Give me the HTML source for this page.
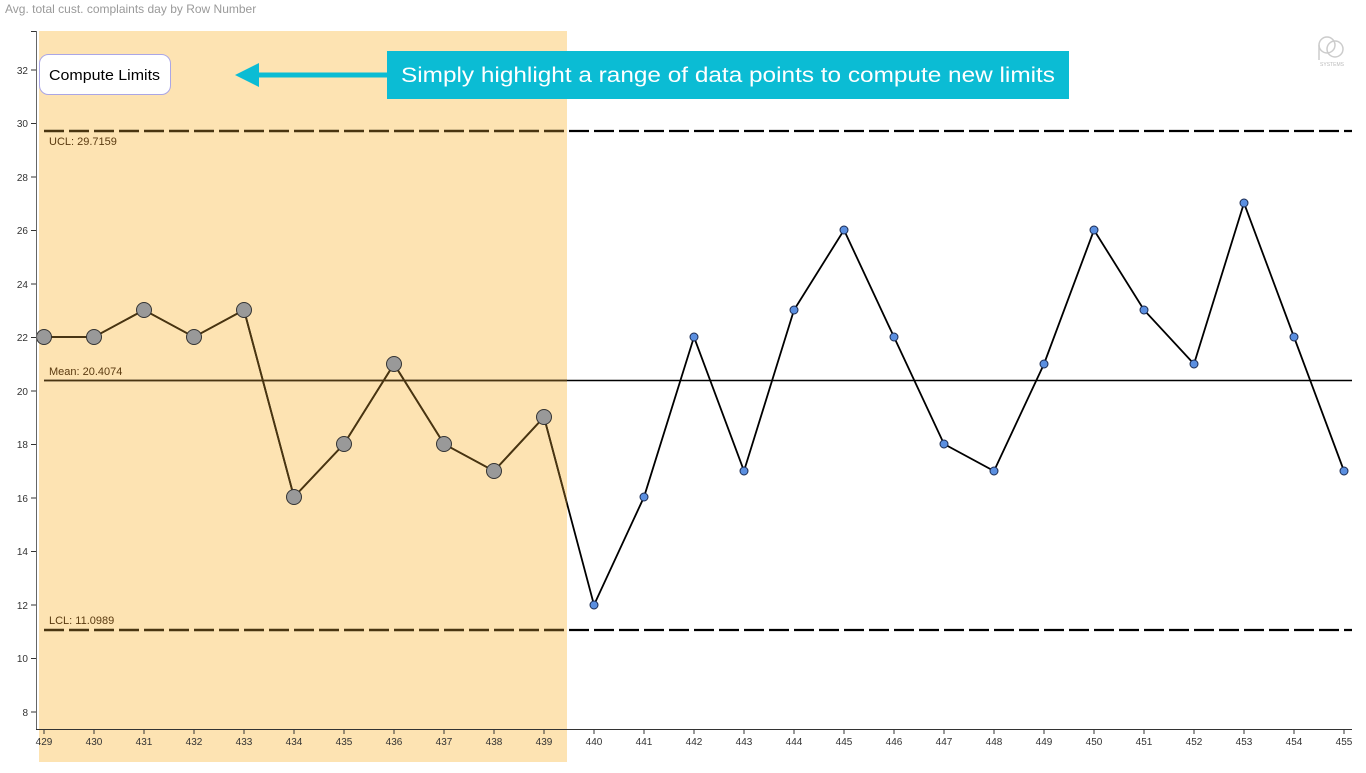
<!DOCTYPE html>
<html><head><meta charset="utf-8"><style>
body{margin:0;background:#fff;width:1366px;height:768px;overflow:hidden;font-family:"Liberation Sans",sans-serif}
</style></head><body>
<svg width="1366" height="768" viewBox="0 0 1366 768" xmlns="http://www.w3.org/2000/svg" font-family="Liberation Sans, sans-serif">
<defs><clipPath id="hl"><rect x="39" y="31" width="528" height="731"/></clipPath></defs>
<text x="5" y="13" font-size="12" fill="#9a9a9a">Avg. total cust. complaints day by Row Number</text>
<rect x="39" y="31" width="528" height="731" fill="#fde3b2"/>
<g id="lines">
<line x1="44" y1="131" x2="1352" y2="131" stroke="#000" stroke-width="2.2" stroke-dasharray="20,5"/>
<line x1="44" y1="630" x2="1352" y2="630" stroke="#000" stroke-width="2.2" stroke-dasharray="20,5"/>
<line x1="44" y1="380.5" x2="1352" y2="380.5" stroke="#000" stroke-width="1.6"/>
<polyline fill="none" stroke="#000" stroke-width="1.8" points="44,337 94,337 144,310 194,337 244,310 294,497 344,444 394,364 444,444 494,471 544,417 594,605 644,497 694,337 744,471 794,310 844,230 894,337 944,444 994,471 1044,364 1094,230 1144,310 1194,364 1244,203 1294,337 1344,471"/>
</g>
<g clip-path="url(#hl)">
<line x1="44" y1="131" x2="1352" y2="131" stroke="#4a3510" stroke-width="2.2" stroke-dasharray="20,5"/>
<line x1="44" y1="630" x2="1352" y2="630" stroke="#4a3510" stroke-width="2.2" stroke-dasharray="20,5"/>
<line x1="44" y1="380.5" x2="1352" y2="380.5" stroke="#4a3510" stroke-width="1.6"/>
<polyline fill="none" stroke="#4a3510" stroke-width="1.8" points="44,337 94,337 144,310 194,337 244,310 294,497 344,444 394,364 444,444 494,471 544,417 594,605"/>
</g>
<g font-size="11" fill="#5a3a10">
<text x="49" y="145">UCL: 29.7159</text>
<text x="49" y="375">Mean: 20.4074</text>
<text x="49" y="624">LCL: 11.0989</text>
</g>
<g fill="#999" stroke="#333" stroke-width="1">
<circle cx="44" cy="337" r="7.5"/><circle cx="94" cy="337" r="7.5"/><circle cx="144" cy="310" r="7.5"/><circle cx="194" cy="337" r="7.5"/><circle cx="244" cy="310" r="7.5"/><circle cx="294" cy="497" r="7.5"/><circle cx="344" cy="444" r="7.5"/><circle cx="394" cy="364" r="7.5"/><circle cx="444" cy="444" r="7.5"/><circle cx="494" cy="471" r="7.5"/><circle cx="544" cy="417" r="7.5"/>
</g>
<g fill="#5b8fe0" stroke="#1a2a50" stroke-width="1">
<circle cx="594" cy="605" r="4"/><circle cx="644" cy="497" r="4"/><circle cx="694" cy="337" r="4"/><circle cx="744" cy="471" r="4"/><circle cx="794" cy="310" r="4"/><circle cx="844" cy="230" r="4"/><circle cx="894" cy="337" r="4"/><circle cx="944" cy="444" r="4"/><circle cx="994" cy="471" r="4"/><circle cx="1044" cy="364" r="4"/><circle cx="1094" cy="230" r="4"/><circle cx="1144" cy="310" r="4"/><circle cx="1194" cy="364" r="4"/><circle cx="1244" cy="203" r="4"/><circle cx="1294" cy="337" r="4"/><circle cx="1344" cy="471" r="4"/>
</g>
<line x1="36.5" y1="31" x2="36.5" y2="730" stroke="#666" stroke-width="1"/>
<line x1="36" y1="729.5" x2="1352" y2="729.5" stroke="#333" stroke-width="1"/>
<g font-size="10" fill="#333" text-anchor="end">
<g stroke="#333"><line x1="31" y1="31.5" x2="36" y2="31.5"/><line x1="31" y1="70" x2="36" y2="70"/><line x1="31" y1="123.5" x2="36" y2="123.5"/><line x1="31" y1="177" x2="36" y2="177"/><line x1="31" y1="230.5" x2="36" y2="230.5"/><line x1="31" y1="284" x2="36" y2="284"/><line x1="31" y1="337.5" x2="36" y2="337.5"/><line x1="31" y1="391" x2="36" y2="391"/><line x1="31" y1="444.5" x2="36" y2="444.5"/><line x1="31" y1="498" x2="36" y2="498"/><line x1="31" y1="551.5" x2="36" y2="551.5"/><line x1="31" y1="605" x2="36" y2="605"/><line x1="31" y1="658.5" x2="36" y2="658.5"/><line x1="31" y1="712" x2="36" y2="712"/></g>
<text x="28" y="74">32</text><text x="28" y="127">30</text><text x="28" y="181">28</text><text x="28" y="234">26</text><text x="28" y="288">24</text><text x="28" y="341">22</text><text x="28" y="395">20</text><text x="28" y="448">18</text><text x="28" y="502">16</text><text x="28" y="555">14</text><text x="28" y="609">12</text><text x="28" y="662">10</text><text x="28" y="716">8</text>
</g>
<g font-size="10" fill="#333" text-anchor="middle">
<g stroke="#333"><line x1="44" y1="729" x2="44" y2="734"/><line x1="94" y1="729" x2="94" y2="734"/><line x1="144" y1="729" x2="144" y2="734"/><line x1="194" y1="729" x2="194" y2="734"/><line x1="244" y1="729" x2="244" y2="734"/><line x1="294" y1="729" x2="294" y2="734"/><line x1="344" y1="729" x2="344" y2="734"/><line x1="394" y1="729" x2="394" y2="734"/><line x1="444" y1="729" x2="444" y2="734"/><line x1="494" y1="729" x2="494" y2="734"/><line x1="544" y1="729" x2="544" y2="734"/><line x1="594" y1="729" x2="594" y2="734"/><line x1="644" y1="729" x2="644" y2="734"/><line x1="694" y1="729" x2="694" y2="734"/><line x1="744" y1="729" x2="744" y2="734"/><line x1="794" y1="729" x2="794" y2="734"/><line x1="844" y1="729" x2="844" y2="734"/><line x1="894" y1="729" x2="894" y2="734"/><line x1="944" y1="729" x2="944" y2="734"/><line x1="994" y1="729" x2="994" y2="734"/><line x1="1044" y1="729" x2="1044" y2="734"/><line x1="1094" y1="729" x2="1094" y2="734"/><line x1="1144" y1="729" x2="1144" y2="734"/><line x1="1194" y1="729" x2="1194" y2="734"/><line x1="1244" y1="729" x2="1244" y2="734"/><line x1="1294" y1="729" x2="1294" y2="734"/><line x1="1344" y1="729" x2="1344" y2="734"/></g>
<text x="44" y="745">429</text><text x="94" y="745">430</text><text x="144" y="745">431</text><text x="194" y="745">432</text><text x="244" y="745">433</text><text x="294" y="745">434</text><text x="344" y="745">435</text><text x="394" y="745">436</text><text x="444" y="745">437</text><text x="494" y="745">438</text><text x="544" y="745">439</text><text x="594" y="745">440</text><text x="644" y="745">441</text><text x="694" y="745">442</text><text x="744" y="745">443</text><text x="794" y="745">444</text><text x="844" y="745">445</text><text x="894" y="745">446</text><text x="944" y="745">447</text><text x="994" y="745">448</text><text x="1044" y="745">449</text><text x="1094" y="745">450</text><text x="1144" y="745">451</text><text x="1194" y="745">452</text><text x="1244" y="745">453</text><text x="1294" y="745">454</text><text x="1344" y="745">455</text>
</g>
<rect x="39.5" y="54.5" width="131" height="40" rx="9" fill="#fff" stroke="#aaa6e6"/>
<text x="49" y="80" font-size="15" fill="#000" textLength="111" lengthAdjust="spacingAndGlyphs">Compute Limits</text>
<polygon points="235,75 259,63 259,87" fill="#0bbcd4"/>
<rect x="257" y="72.5" width="132" height="5" fill="#0bbcd4"/>
<rect x="387" y="51" width="682" height="48" fill="#0bbcd4"/>
<text x="401" y="82" font-size="21" fill="#fff" textLength="654" lengthAdjust="spacingAndGlyphs">Simply highlight a range of data points to compute new limits</text>
<g fill="none" stroke="#ccc" stroke-width="1.5"><circle cx="1327" cy="45" r="8"/><circle cx="1335" cy="49" r="8"/><line x1="1319" y1="45" x2="1319" y2="60"/></g>
<text x="1332" y="66" font-size="5" fill="#bbb" text-anchor="middle">SYSTEMS</text>
</svg>
</body></html>
